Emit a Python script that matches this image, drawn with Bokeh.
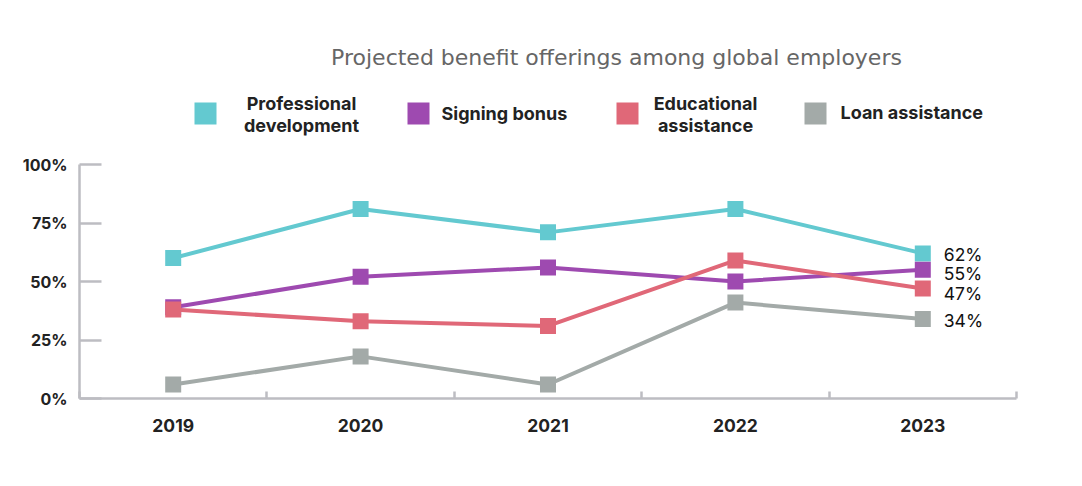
from bokeh.plotting import figure
from bokeh.models import FixedTicker, Range1d
from bokeh.core.properties import value
from bokeh.embed import file_html
from bokeh.resources import INLINE

# ---------------- data ----------------
years = ["2019", "2020", "2021", "2022", "2023"]
professional = [60, 81, 71, 81, 62]
signing = [39, 52, 56, 50, 55]
educational = [38, 33, 31, 59, 47]
loan = [6, 18, 6, 41, 34]
y_ticks = [0, 25, 50, 75, 100]
y_tick_labels = ["0%", "25%", "50%", "75%", "100%"]
title_text = "Projected benefit offerings among global employers"

C_PRO = "#63C9D0"
C_SIGN = "#9E4AB0"
C_EDU = "#E06878"
C_LOAN = "#A3AAA8"
AXIS = "#BDBDC2"

# ---------------- geometry ----------------
W, H = 1066, 470
FL, FR, FB = 79, 1016, 398          # frame edges in canvas px (top = 0)
PX_PER_PCT = 2.34
y_top = FB / PX_PER_PCT              # data value at canvas top
n = len(years)
idx = list(range(n))
cat_w = (FR - FL) / n

def sx(px):   # canvas x -> data x
    return (px - FL) / cat_w - 0.5

def sy(py):   # canvas y -> data y
    return (FB - py) / PX_PER_PCT

p = figure(width=W, height=H, output_backend="svg", toolbar_location=None,
           x_range=Range1d(-0.5, n - 0.5), y_range=Range1d(0, y_top),
           min_border_left=FL, min_border_right=W - FR,
           min_border_top=0, min_border_bottom=H - FB, title=None)
p.outline_line_color = None
p.xgrid.visible = False
p.ygrid.visible = False
p.background_fill_color = "white"
p.border_fill_color = "white"

# y axis
ya = p.yaxis[0]
ya.ticker = FixedTicker(ticks=y_ticks, minor_ticks=[])
ya.major_label_overrides = {t: l for t, l in zip(y_ticks, y_tick_labels)}
ya.bounds = (0, 100)
ya.axis_line_color = AXIS
ya.axis_line_width = 2.5
ya.major_tick_line_color = AXIS
ya.major_tick_line_width = 2.5
ya.major_tick_in = 22
ya.major_tick_out = 0
ya.major_label_standoff = 12
ya.major_label_text_font = "Inter"
ya.major_label_text_font_style = "bold"
ya.major_label_text_font_size = "16px"
ya.major_label_text_color = "#222222"

# x axis
xa = p.xaxis[0]
xa.ticker = FixedTicker(ticks=idx, minor_ticks=[i + 0.5 for i in range(-1, n)])
xa.major_label_overrides = {i: y for i, y in zip(idx, years)}
xa.axis_line_color = AXIS
xa.axis_line_width = 2.5
xa.major_tick_line_color = None
xa.major_tick_in = 0
xa.major_tick_out = 0
xa.minor_tick_line_color = AXIS
xa.minor_tick_line_width = 2.5
xa.minor_tick_in = 7
xa.minor_tick_out = 0
xa.major_label_standoff = 20
xa.major_label_text_font = "Inter"
xa.major_label_text_font_style = "bold"
xa.major_label_text_font_size = "17.5px"
xa.major_label_text_color = "#222222"

# series (draw order: grey, teal, purple, pink)
for vals, col in [(loan, C_LOAN), (professional, C_PRO), (signing, C_SIGN), (educational, C_EDU)]:
    p.line(idx, vals, line_color=col, line_width=4)
    p.scatter(idx, vals, marker="square", size=16, fill_color=col, line_color=None)

# end labels
last = [professional[-1], signing[-1], educational[-1], loan[-1]]
p.text(x=[idx[-1]] * 4, y=last, text=[f"{v}%" for v in last],
       x_offset=21, y_offset=[1, 4, 5, 2],
       text_font=value("Inter"), text_font_size="17.5px", text_color="#111111",
       text_align="left", text_baseline="middle")

# title
p.text(x=[sx(616)], y=[sy(57)], text=[title_text], text_font=value("DejaVu Sans"),
       text_font_size="22px", text_color="#666666", text_align="center",
       text_baseline="middle")

# legend
leg_sq_x = [205, 418, 627, 815]
leg_cols = [C_PRO, C_SIGN, C_EDU, C_LOAN]
p.scatter([sx(v) for v in leg_sq_x], [sy(113)] * 4, marker="square", size=22,
          fill_color=leg_cols, line_color=None)
lt = dict(text_font=value("Inter"), text_font_size="18px", text_font_style="bold",
          text_color="#222222", text_baseline="middle")
p.text(x=[sx(301), sx(301), sx(705), sx(705)], y=[sy(103), sy(125), sy(103), sy(125)],
       text=["Professional", "development", "Educational", "assistance"],
       text_align="center", **lt)
p.text(x=[sx(441), sx(840)], y=[sy(113), sy(112)],
       text=["Signing bonus", "Loan assistance"], text_align="left", **lt)

open("out.html", "w").write(file_html(p, INLINE))
